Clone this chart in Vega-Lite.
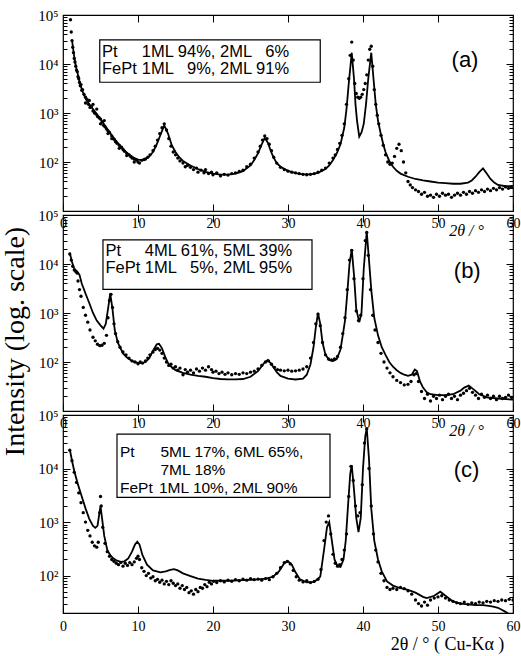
{
  "$schema": "https://vega.github.io/schema/vega-lite/v6.json",
  "background": "white",
  "padding": {"left": 0, "top": 7, "right": 0, "bottom": 0},
  "spacing": 4,
  "bounds": "flush",
  "config": {
    "view": {"stroke": "black", "strokeWidth": 1.2},
    "axis": {"tickColor": "black", "labelColor": "black", "domain": false, "grid": false, "labelFont": "Liberation Serif", "labelFontSize": 14, "tickWidth": 1, "titleColor": "black"},
    "font": "Liberation Serif"
  },
  "datasets": {
    "am": [{"x":1.0,"y":80000},{"x":1.1,"y":45000},{"x":1.2,"y":30000},{"x":1.3,"y":22000},{"x":1.4,"y":17000},{"x":1.5,"y":13000},{"x":1.6,"y":11000},{"x":1.7,"y":9000},{"x":1.8,"y":7500},{"x":1.9,"y":7000},{"x":2.0,"y":5500},{"x":2.1,"y":5000},{"x":2.2,"y":4200},{"x":2.3,"y":3600},{"x":2.4,"y":3800},{"x":2.5,"y":2900},{"x":2.6,"y":3000},{"x":2.8,"y":2400},{"x":3.0,"y":2100},{"x":3.0,"y":1600},{"x":3.2,"y":1900},{"x":3.4,"y":1500},{"x":3.5,"y":1800},{"x":3.6,"y":1300},{"x":3.8,"y":1350},{"x":4.0,"y":1100},{"x":4.0,"y":1500},{"x":4.2,"y":1000},{"x":4.4,"y":950},{"x":4.5,"y":1200},{"x":4.6,"y":850},{"x":4.8,"y":800},{"x":5.0,"y":750},{"x":5.0,"y":600},{"x":5.2,"y":650},{"x":5.4,"y":560},{"x":5.5,"y":700},{"x":5.6,"y":520},{"x":5.8,"y":470},{"x":6.0,"y":430},{"x":6.0,"y":380},{"x":6.2,"y":400},{"x":6.5,"y":340},{"x":6.5,"y":300},{"x":6.8,"y":290},{"x":7.0,"y":260},{"x":7.2,"y":240},{"x":7.5,"y":220},{"x":7.5,"y":190},{"x":7.8,"y":200},{"x":8.0,"y":180},{"x":8.2,"y":165},{"x":8.5,"y":150},{"x":8.5,"y":135},{"x":8.8,"y":140},{"x":9.0,"y":130},{"x":9.2,"y":120},{"x":9.5,"y":115},{"x":9.5,"y":100},{"x":9.8,"y":110},{"x":10.0,"y":100},{"x":10.2,"y":95},{"x":10.5,"y":108},{"x":10.8,"y":112},{"x":11.0,"y":115},{"x":11.3,"y":125},{"x":11.6,"y":140},{"x":12.0,"y":170},{"x":12.3,"y":210},{"x":12.6,"y":280},{"x":12.9,"y":380},{"x":13.2,"y":500},{"x":13.5,"y":600},{"x":13.8,"y":450},{"x":14.1,"y":300},{"x":14.4,"y":210},{"x":14.7,"y":160},{"x":15.0,"y":140},{"x":15.3,"y":120},{"x":15.6,"y":105},{"x":16.0,"y":95},{"x":16.3,"y":80},{"x":16.6,"y":85},{"x":17.0,"y":78},{"x":17.4,"y":70},{"x":17.8,"y":75},{"x":18.0,"y":62},{"x":18.4,"y":68},{"x":18.8,"y":60},{"x":19.0,"y":70},{"x":19.4,"y":58},{"x":19.8,"y":62},{"x":20.0,"y":55},{"x":20.5,"y":60},{"x":21.0,"y":52},{"x":21.5,"y":56},{"x":22.0,"y":54},{"x":22.5,"y":58},{"x":23.0,"y":60},{"x":23.5,"y":64},{"x":24.0,"y":68},{"x":24.5,"y":80},{"x":25.0,"y":90},{"x":25.5,"y":120},{"x":26.0,"y":160},{"x":26.3,"y":210},{"x":26.6,"y":280},{"x":26.9,"y":340},{"x":27.2,"y":300},{"x":27.5,"y":230},{"x":27.8,"y":170},{"x":28.1,"y":125},{"x":28.5,"y":95},{"x":29.0,"y":78},{"x":29.5,"y":70},{"x":30.0,"y":65},{"x":30.5,"y":62},{"x":31.0,"y":60},{"x":31.5,"y":58},{"x":32.0,"y":56},{"x":32.5,"y":55},{"x":33.0,"y":56},{"x":33.5,"y":58},{"x":34.0,"y":62},{"x":34.5,"y":68},{"x":35.0,"y":75},{"x":35.5,"y":95},{"x":36.0,"y":120},{"x":36.3,"y":140},{"x":36.6,"y":180},{"x":36.9,"y":240},{"x":37.2,"y":350},{"x":37.5,"y":600},{"x":37.8,"y":1500},{"x":38.1,"y":5000},{"x":38.3,"y":15000},{"x":38.5,"y":28000},{"x":38.7,"y":12000},{"x":38.9,"y":4000},{"x":39.1,"y":2500},{"x":39.3,"y":2100},{"x":39.5,"y":2000},{"x":39.7,"y":2100},{"x":39.9,"y":2400},{"x":40.1,"y":3000},{"x":40.3,"y":4000},{"x":40.5,"y":6000},{"x":40.7,"y":12000},{"x":40.9,"y":20000},{"x":41.1,"y":23000},{"x":41.3,"y":9000},{"x":41.5,"y":3000},{"x":41.7,"y":1500},{"x":41.9,"y":900},{"x":42.1,"y":600},{"x":42.4,"y":350},{"x":42.7,"y":220},{"x":43.0,"y":140},{"x":43.3,"y":100},{"x":43.6,"y":90},{"x":43.9,"y":95},{"x":44.2,"y":130},{"x":44.5,"y":190},{"x":44.8,"y":230},{"x":45.1,"y":170},{"x":45.4,"y":100},{"x":45.7,"y":60},{"x":46.0,"y":40},{"x":46.3,"y":34},{"x":46.6,"y":30},{"x":47.0,"y":27},{"x":47.4,"y":25},{"x":47.8,"y":22},{"x":48.2,"y":24},{"x":48.6,"y":20},{"x":49.0,"y":21},{"x":49.4,"y":19},{"x":49.8,"y":22},{"x":50.2,"y":20},{"x":50.6,"y":23},{"x":51.0,"y":21},{"x":51.4,"y":22},{"x":51.8,"y":19},{"x":52.2,"y":21},{"x":52.6,"y":23},{"x":53.0,"y":21},{"x":53.4,"y":24},{"x":53.8,"y":22},{"x":54.2,"y":25},{"x":54.6,"y":23},{"x":55.0,"y":26},{"x":55.4,"y":24},{"x":55.8,"y":27},{"x":56.2,"y":25},{"x":56.6,"y":28},{"x":57.0,"y":26},{"x":57.4,"y":29},{"x":57.8,"y":27},{"x":58.2,"y":30},{"x":58.6,"y":28},{"x":59.0,"y":31},{"x":59.4,"y":29},{"x":59.8,"y":31}],
    "af": [{"x":1.2,"y":31000},{"x":1.4,"y":18000},{"x":1.6,"y":11000},{"x":1.8,"y":8000},{"x":2.0,"y":6000},{"x":2.3,"y":3800},{"x":2.6,"y":2800},{"x":3.0,"y":2000},{"x":3.5,"y":1500},{"x":4.0,"y":1200},{"x":4.5,"y":950},{"x":5.0,"y":760},{"x":5.5,"y":580},{"x":6.0,"y":450},{"x":6.5,"y":350},{"x":7.0,"y":280},{"x":7.5,"y":225},{"x":8.0,"y":185},{"x":8.5,"y":155},{"x":9.0,"y":135},{"x":9.5,"y":120},{"x":10.0,"y":112},{"x":10.5,"y":110},{"x":11.0,"y":115},{"x":11.5,"y":130},{"x":12.0,"y":160},{"x":12.5,"y":230},{"x":13.0,"y":360},{"x":13.5,"y":560},{"x":14.0,"y":380},{"x":14.5,"y":220},{"x":15.0,"y":160},{"x":15.5,"y":125},{"x":16.0,"y":105},{"x":17.0,"y":85},{"x":18.0,"y":72},{"x":19.0,"y":63},{"x":20.0,"y":58},{"x":21.0,"y":55},{"x":22.0,"y":55},{"x":23.0,"y":58},{"x":24.0,"y":65},{"x":25.0,"y":85},{"x":25.5,"y":110},{"x":26.0,"y":150},{"x":26.5,"y":230},{"x":26.9,"y":310},{"x":27.3,"y":250},{"x":27.7,"y":170},{"x":28.0,"y":130},{"x":28.5,"y":95},{"x":29.0,"y":80},{"x":30.0,"y":66},{"x":31.0,"y":59},{"x":32.0,"y":56},{"x":33.0,"y":56},{"x":34.0,"y":60},{"x":35.0,"y":72},{"x":35.5,"y":85},{"x":36.0,"y":110},{"x":36.5,"y":150},{"x":37.0,"y":230},{"x":37.5,"y":500},{"x":37.8,"y":1200},{"x":38.1,"y":4000},{"x":38.5,"y":17000},{"x":38.8,"y":5000},{"x":39.0,"y":1500},{"x":39.2,"y":700},{"x":39.5,"y":330},{"x":39.8,"y":400},{"x":40.1,"y":600},{"x":40.4,"y":1500},{"x":40.7,"y":5000},{"x":41.1,"y":17000},{"x":41.4,"y":5000},{"x":41.7,"y":1500},{"x":42.0,"y":700},{"x":42.3,"y":420},{"x":42.7,"y":230},{"x":43.0,"y":160},{"x":43.5,"y":105},{"x":44.0,"y":80},{"x":44.5,"y":66},{"x":45.0,"y":58},{"x":46.0,"y":50},{"x":47.0,"y":45},{"x":48.0,"y":42},{"x":49.0,"y":40},{"x":50.0,"y":38},{"x":51.0,"y":37},{"x":52.0,"y":36},{"x":53.0,"y":36},{"x":54.0,"y":38},{"x":54.5,"y":42},{"x":55.0,"y":50},{"x":55.5,"y":62},{"x":56.0,"y":74},{"x":56.5,"y":58},{"x":57.0,"y":45},{"x":57.5,"y":38},{"x":58.0,"y":34},{"x":59.0,"y":32},{"x":60.0,"y":32}],
    "bm": [{"x":0.9,"y":16000},{"x":1.1,"y":12000},{"x":1.3,"y":9000},{"x":1.5,"y":7500},{"x":1.7,"y":7000},{"x":1.9,"y":6500},{"x":2.0,"y":4500},{"x":2.2,"y":3000},{"x":2.4,"y":2200},{"x":2.7,"y":1300},{"x":3.0,"y":900},{"x":3.3,"y":650},{"x":3.6,"y":450},{"x":4.0,"y":320},{"x":4.3,"y":270},{"x":4.6,"y":230},{"x":4.9,"y":215},{"x":5.2,"y":220},{"x":5.5,"y":240},{"x":5.8,"y":350},{"x":6.0,"y":800},{"x":6.2,"y":1800},{"x":6.4,"y":2400},{"x":6.6,"y":1300},{"x":6.8,"y":600},{"x":7.0,"y":380},{"x":7.3,"y":260},{"x":7.6,"y":200},{"x":8.0,"y":160},{"x":8.4,"y":140},{"x":8.8,"y":120},{"x":9.2,"y":105},{"x":9.6,"y":100},{"x":10.0,"y":92},{"x":10.3,"y":100},{"x":10.6,"y":95},{"x":11.0,"y":105},{"x":11.3,"y":120},{"x":11.6,"y":140},{"x":12.0,"y":160},{"x":12.3,"y":180},{"x":12.6,"y":190},{"x":12.9,"y":175},{"x":13.2,"y":150},{"x":13.5,"y":120},{"x":13.8,"y":100},{"x":14.1,"y":85},{"x":14.4,"y":90},{"x":14.7,"y":75},{"x":15.0,"y":80},{"x":15.3,"y":68},{"x":15.6,"y":75},{"x":16.0,"y":55},{"x":16.3,"y":70},{"x":16.6,"y":62},{"x":17.0,"y":68},{"x":17.4,"y":60},{"x":17.8,"y":72},{"x":18.2,"y":65},{"x":18.6,"y":75},{"x":19.0,"y":68},{"x":19.4,"y":80},{"x":19.8,"y":70},{"x":20.0,"y":62},{"x":20.4,"y":65},{"x":20.8,"y":58},{"x":21.2,"y":62},{"x":21.6,"y":56},{"x":22.0,"y":60},{"x":22.5,"y":55},{"x":23.0,"y":58},{"x":23.5,"y":56},{"x":24.0,"y":60},{"x":24.5,"y":58},{"x":25.0,"y":62},{"x":25.5,"y":65},{"x":26.0,"y":72},{"x":26.5,"y":85},{"x":27.0,"y":100},{"x":27.4,"y":105},{"x":27.8,"y":90},{"x":28.2,"y":78},{"x":28.6,"y":70},{"x":29.0,"y":68},{"x":29.5,"y":66},{"x":30.0,"y":68},{"x":30.5,"y":65},{"x":31.0,"y":66},{"x":31.5,"y":68},{"x":32.0,"y":72},{"x":32.5,"y":80},{"x":33.0,"y":120},{"x":33.4,"y":250},{"x":33.7,"y":600},{"x":34.0,"y":950},{"x":34.3,"y":550},{"x":34.6,"y":250},{"x":35.0,"y":140},{"x":35.4,"y":115},{"x":35.8,"y":110},{"x":36.2,"y":115},{"x":36.6,"y":130},{"x":37.0,"y":200},{"x":37.3,"y":380},{"x":37.6,"y":800},{"x":37.9,"y":3000},{"x":38.2,"y":12000},{"x":38.5,"y":19000},{"x":38.8,"y":5000},{"x":39.1,"y":1100},{"x":39.4,"y":700},{"x":39.7,"y":900},{"x":40.0,"y":5000},{"x":40.3,"y":30000},{"x":40.5,"y":44000},{"x":40.7,"y":15000},{"x":41.0,"y":3000},{"x":41.3,"y":900},{"x":41.6,"y":450},{"x":42.0,"y":250},{"x":42.4,"y":150},{"x":42.8,"y":100},{"x":43.2,"y":75},{"x":43.6,"y":60},{"x":44.0,"y":50},{"x":44.5,"y":42},{"x":45.0,"y":38},{"x":45.5,"y":34},{"x":46.0,"y":35},{"x":46.4,"y":40},{"x":46.8,"y":55},{"x":47.1,"y":58},{"x":47.4,"y":40},{"x":47.8,"y":25},{"x":48.2,"y":18},{"x":48.6,"y":22},{"x":49.0,"y":16},{"x":49.4,"y":20},{"x":49.8,"y":18},{"x":50.2,"y":21},{"x":50.6,"y":17},{"x":51.0,"y":20},{"x":51.4,"y":22},{"x":51.8,"y":18},{"x":52.2,"y":20},{"x":52.6,"y":17},{"x":53.0,"y":21},{"x":53.4,"y":23},{"x":53.8,"y":26},{"x":54.2,"y":29},{"x":54.6,"y":24},{"x":55.0,"y":21},{"x":55.4,"y":18},{"x":55.8,"y":22},{"x":56.2,"y":19},{"x":56.6,"y":21},{"x":57.0,"y":18},{"x":57.4,"y":20},{"x":57.8,"y":17},{"x":58.2,"y":20},{"x":58.6,"y":18},{"x":59.0,"y":19},{"x":59.4,"y":21},{"x":59.8,"y":19}],
    "bf": [{"x":0.9,"y":17000},{"x":1.2,"y":11000},{"x":1.5,"y":8000},{"x":1.9,"y":7000},{"x":2.2,"y":6000},{"x":2.5,"y":4000},{"x":3.0,"y":2500},{"x":3.5,"y":1600},{"x":4.0,"y":1000},{"x":4.5,"y":700},{"x":5.0,"y":560},{"x":5.4,"y":480},{"x":5.7,"y":600},{"x":6.0,"y":1200},{"x":6.3,"y":2500},{"x":6.6,"y":1200},{"x":6.9,"y":450},{"x":7.3,"y":250},{"x":8.0,"y":150},{"x":8.5,"y":125},{"x":9.0,"y":110},{"x":9.5,"y":100},{"x":10.0,"y":96},{"x":10.5,"y":95},{"x":11.0,"y":100},{"x":11.5,"y":120},{"x":12.0,"y":170},{"x":12.5,"y":230},{"x":12.8,"y":235},{"x":13.2,"y":190},{"x":13.6,"y":130},{"x":14.0,"y":95},{"x":14.5,"y":78},{"x":15.0,"y":68},{"x":16.0,"y":60},{"x":17.0,"y":55},{"x":18.0,"y":52},{"x":19.0,"y":50},{"x":20.0,"y":47},{"x":21.0,"y":45},{"x":22.0,"y":44},{"x":23.0,"y":44},{"x":24.0,"y":45},{"x":25.0,"y":50},{"x":26.0,"y":65},{"x":26.8,"y":95},{"x":27.3,"y":110},{"x":27.8,"y":90},{"x":28.5,"y":62},{"x":29.0,"y":52},{"x":30.0,"y":46},{"x":31.0,"y":44},{"x":32.0,"y":46},{"x":32.5,"y":55},{"x":33.0,"y":90},{"x":33.4,"y":200},{"x":33.7,"y":500},{"x":34.0,"y":1000},{"x":34.3,"y":600},{"x":34.6,"y":250},{"x":35.0,"y":140},{"x":35.5,"y":110},{"x":36.0,"y":105},{"x":36.5,"y":115},{"x":37.0,"y":180},{"x":37.3,"y":350},{"x":37.6,"y":700},{"x":37.9,"y":2500},{"x":38.2,"y":10000},{"x":38.5,"y":20000},{"x":38.8,"y":6000},{"x":39.1,"y":1200},{"x":39.5,"y":650},{"x":39.8,"y":1000},{"x":40.1,"y":8000},{"x":40.5,"y":46000},{"x":40.8,"y":12000},{"x":41.1,"y":3000},{"x":41.5,"y":800},{"x":42.0,"y":350},{"x":42.5,"y":200},{"x":43.0,"y":140},{"x":43.5,"y":100},{"x":44.0,"y":80},{"x":44.5,"y":68},{"x":45.0,"y":60},{"x":45.5,"y":55},{"x":46.0,"y":52},{"x":46.5,"y":55},{"x":46.9,"y":70},{"x":47.2,"y":65},{"x":47.6,"y":40},{"x":48.0,"y":30},{"x":48.5,"y":24},{"x":49.0,"y":22},{"x":50.0,"y":21},{"x":51.0,"y":21},{"x":52.0,"y":22},{"x":53.0,"y":26},{"x":53.5,"y":30},{"x":54.1,"y":33},{"x":54.7,"y":28},{"x":55.5,"y":22},{"x":56.5,"y":19},{"x":58.0,"y":18},{"x":60.0,"y":17}],
    "cm": [{"x":0.9,"y":22000},{"x":1.2,"y":14000},{"x":1.5,"y":8500},{"x":1.8,"y":5500},{"x":2.1,"y":3500},{"x":2.4,"y":2300},{"x":2.7,"y":1500},{"x":3.0,"y":1000},{"x":3.3,"y":700},{"x":3.6,"y":550},{"x":3.9,"y":420},{"x":4.2,"y":360},{"x":4.5,"y":340},{"x":4.7,"y":420},{"x":4.9,"y":1500},{"x":5.0,"y":3000},{"x":5.1,"y":2000},{"x":5.3,"y":800},{"x":5.6,"y":400},{"x":5.9,"y":280},{"x":6.2,"y":230},{"x":6.5,"y":200},{"x":6.8,"y":185},{"x":7.1,"y":170},{"x":7.4,"y":160},{"x":7.7,"y":175},{"x":8.0,"y":150},{"x":8.3,"y":170},{"x":8.6,"y":155},{"x":8.9,"y":175},{"x":9.2,"y":160},{"x":9.5,"y":180},{"x":9.8,"y":210},{"x":10.0,"y":230},{"x":10.2,"y":200},{"x":10.5,"y":140},{"x":10.8,"y":120},{"x":11.1,"y":100},{"x":11.4,"y":110},{"x":11.7,"y":90},{"x":12.0,"y":95},{"x":12.3,"y":80},{"x":12.6,"y":85},{"x":12.9,"y":75},{"x":13.2,"y":82},{"x":13.5,"y":70},{"x":13.8,"y":78},{"x":14.1,"y":68},{"x":14.4,"y":80},{"x":14.7,"y":72},{"x":15.0,"y":65},{"x":15.3,"y":70},{"x":15.6,"y":58},{"x":15.9,"y":65},{"x":16.2,"y":55},{"x":16.5,"y":60},{"x":16.8,"y":48},{"x":17.1,"y":52},{"x":17.4,"y":45},{"x":17.7,"y":55},{"x":18.0,"y":50},{"x":18.3,"y":60},{"x":18.6,"y":58},{"x":18.9,"y":68},{"x":19.2,"y":62},{"x":19.5,"y":75},{"x":19.8,"y":70},{"x":20.1,"y":78},{"x":20.5,"y":74},{"x":21.0,"y":80},{"x":21.5,"y":76},{"x":22.0,"y":82},{"x":22.5,"y":78},{"x":23.0,"y":84},{"x":23.5,"y":80},{"x":24.0,"y":86},{"x":24.5,"y":82},{"x":25.0,"y":88},{"x":25.5,"y":84},{"x":26.0,"y":86},{"x":26.5,"y":82},{"x":27.0,"y":88},{"x":27.5,"y":84},{"x":28.0,"y":95},{"x":28.5,"y":110},{"x":29.0,"y":140},{"x":29.5,"y":175},{"x":29.9,"y":185},{"x":30.3,"y":165},{"x":30.7,"y":125},{"x":31.1,"y":95},{"x":31.5,"y":82},{"x":32.0,"y":76},{"x":32.5,"y":80},{"x":33.0,"y":74},{"x":33.5,"y":78},{"x":34.0,"y":85},{"x":34.4,"y":130},{"x":34.8,"y":450},{"x":35.1,"y":1000},{"x":35.4,"y":1300},{"x":35.7,"y":600},{"x":36.0,"y":250},{"x":36.3,"y":170},{"x":36.6,"y":150},{"x":36.9,"y":160},{"x":37.2,"y":200},{"x":37.5,"y":300},{"x":37.8,"y":600},{"x":38.1,"y":3000},{"x":38.4,"y":11000},{"x":38.7,"y":6000},{"x":39.0,"y":2000},{"x":39.3,"y":1300},{"x":39.6,"y":1500},{"x":39.9,"y":5000},{"x":40.2,"y":30000},{"x":40.5,"y":55000},{"x":40.8,"y":10000},{"x":41.1,"y":2000},{"x":41.4,"y":600},{"x":41.7,"y":300},{"x":42.0,"y":180},{"x":42.4,"y":110},{"x":42.8,"y":80},{"x":43.2,"y":60},{"x":43.6,"y":55},{"x":44.0,"y":58},{"x":44.5,"y":55},{"x":45.0,"y":60},{"x":45.5,"y":57},{"x":46.0,"y":52},{"x":46.5,"y":45},{"x":47.0,"y":35},{"x":47.4,"y":30},{"x":47.8,"y":27},{"x":48.2,"y":32},{"x":48.6,"y":28},{"x":49.0,"y":35},{"x":49.5,"y":38},{"x":50.0,"y":40},{"x":50.5,"y":42},{"x":51.0,"y":38},{"x":51.5,"y":35},{"x":52.0,"y":33},{"x":52.5,"y":31},{"x":53.0,"y":30},{"x":53.5,"y":32},{"x":54.0,"y":29},{"x":54.5,"y":31},{"x":55.0,"y":30},{"x":55.5,"y":32},{"x":56.0,"y":31},{"x":56.5,"y":33},{"x":57.0,"y":32},{"x":57.5,"y":34},{"x":58.0,"y":33},{"x":58.5,"y":35},{"x":59.0,"y":34},{"x":59.5,"y":36},{"x":60.0,"y":35}],
    "cf": [{"x":0.9,"y":23000},{"x":1.2,"y":14000},{"x":1.5,"y":9000},{"x":2.0,"y":5000},{"x":2.5,"y":3000},{"x":3.0,"y":1800},{"x":3.5,"y":1150},{"x":4.0,"y":850},{"x":4.3,"y":780},{"x":4.6,"y":850},{"x":4.8,"y":1300},{"x":5.0,"y":2000},{"x":5.2,"y":1200},{"x":5.5,"y":550},{"x":5.9,"y":300},{"x":6.3,"y":240},{"x":6.7,"y":210},{"x":7.2,"y":190},{"x":7.7,"y":180},{"x":8.2,"y":185},{"x":8.7,"y":210},{"x":9.2,"y":280},{"x":9.6,"y":380},{"x":9.9,"y":430},{"x":10.2,"y":380},{"x":10.6,"y":240},{"x":11.2,"y":160},{"x":12.0,"y":125},{"x":13.0,"y":115},{"x":13.7,"y":120},{"x":14.3,"y":128},{"x":14.8,"y":132},{"x":15.3,"y":125},{"x":16.0,"y":110},{"x":17.0,"y":98},{"x":18.0,"y":88},{"x":19.0,"y":83},{"x":20.0,"y":80},{"x":22.0,"y":80},{"x":24.0,"y":82},{"x":26.0,"y":85},{"x":27.0,"y":88},{"x":28.0,"y":95},{"x":28.8,"y":120},{"x":29.5,"y":170},{"x":30.0,"y":185},{"x":30.5,"y":160},{"x":31.0,"y":115},{"x":31.6,"y":85},{"x":32.5,"y":75},{"x":33.5,"y":76},{"x":34.3,"y":95},{"x":34.8,"y":300},{"x":35.2,"y":800},{"x":35.5,"y":1000},{"x":35.8,"y":500},{"x":36.2,"y":200},{"x":36.6,"y":150},{"x":37.0,"y":145},{"x":37.4,"y":200},{"x":37.7,"y":450},{"x":38.0,"y":2000},{"x":38.3,"y":8000},{"x":38.5,"y":11500},{"x":38.8,"y":4000},{"x":39.1,"y":1200},{"x":39.4,"y":650},{"x":39.7,"y":1200},{"x":40.0,"y":10000},{"x":40.3,"y":40000},{"x":40.5,"y":57000},{"x":40.8,"y":15000},{"x":41.1,"y":1800},{"x":41.5,"y":450},{"x":42.0,"y":200},{"x":42.5,"y":120},{"x":43.2,"y":78},{"x":44.0,"y":65},{"x":45.0,"y":58},{"x":46.0,"y":54},{"x":47.0,"y":48},{"x":48.0,"y":40},{"x":48.5,"y":38},{"x":49.5,"y":42},{"x":50.3,"y":50},{"x":51.0,"y":42},{"x":52.0,"y":33},{"x":53.0,"y":30},{"x":54.0,"y":29},{"x":55.0,"y":28},{"x":56.0,"y":28},{"x":57.0,"y":27},{"x":57.5,"y":26},{"x":58.0,"y":25},{"x":58.5,"y":23},{"x":59.0,"y":21},{"x":59.5,"y":19},{"x":60.0,"y":17}]
  },
  "vconcat": [
    {
      "width": 450, "height": 196,
      "layer": [
        {"data": {"name": "am"}, "mark": {"type": "point", "filled": true, "size": 11, "color": "black", "opacity": 1, "strokeWidth": 0, "clip": true},
         "encoding": {
           "x": {"field": "x", "type": "quantitative", "scale": {"domain": [0, 60], "nice": false, "zero": false},
                 "axis": {"orient": "bottom", "values": [0,10,20,30,40,50,60], "tickSize": -7, "labelPadding": 12, "labelFlush": false, "labelOverlap": false, "title": "2θ / °", "titleFont": "Liberation Serif", "titleFontStyle": "italic", "titleFontWeight": "normal", "titleFontSize": 16, "titleX": 403, "titleY": 19, "titleBaseline": "middle", "titleAlign": "center"}},
           "y": {"field": "y", "type": "quantitative", "scale": {"type": "log", "domain": [10, 100000], "nice": false},
                 "axis": {"orient": "left", "values": [20,30,40,50,60,70,80,90,100,200,300,400,500,600,700,800,900,1000,2000,3000,4000,5000,6000,7000,8000,9000,10000,20000,30000,40000,50000,60000,70000,80000,90000,100000], "labelExpr": "datum.value==100?'10²':datum.value==1000?'10³':datum.value==10000?'10⁴':datum.value==100000?'10⁵':''", "tickSize": {"condition": {"test": "datum.value==100||datum.value==1000||datum.value==10000||datum.value==100000", "value": -7}, "value": -4}, "labelPadding": 12, "labelOverlap": false, "labelFontSize": 15, "title": null}}
         }},
        {"data": {"name": "af"}, "mark": {"type": "line", "color": "black", "strokeWidth": 1.8, "clip": true},
         "encoding": {
           "x": {"field": "x", "type": "quantitative", "axis": {"orient": "top", "values": [10,20,30,40,50], "tickSize": -7, "labels": false, "title": null}},
           "y": {"field": "y", "type": "quantitative", "axis": {"orient": "right", "values": [20,30,40,50,60,70,80,90,100,200,300,400,500,600,700,800,900,1000,2000,3000,4000,5000,6000,7000,8000,9000,10000,20000,30000,40000,50000,60000,70000,80000,90000,100000], "labels": false, "tickSize": {"condition": {"test": "datum.value==100||datum.value==1000||datum.value==10000||datum.value==100000", "value": -7}, "value": -4}, "title": null}}
         }},
        {"data": {"values": [{}]}, "mark": {"type": "rect", "fill": "white", "stroke": "black", "strokeWidth": 1.2},
         "encoding": {"x": {"datum": 4.9, "type": "quantitative", "axis": null}, "x2": {"datum": 34.3}, "y": {"datum": 31000, "type": "quantitative", "axis": null}, "y2": {"datum": 4240}}},
        {"data": {"values": [{}]}, "mark": {"type": "text", "text": "Pt", "align": "left", "baseline": "middle", "font": "Liberation Sans", "fontSize": 16.5},
         "encoding": {"x": {"datum": 5.2, "type": "quantitative", "axis": null}, "y": {"datum": 17800, "type": "quantitative", "axis": null}}},
        {"data": {"values": [{}]}, "mark": {"type": "text", "text": "1ML 94%, 2ML \u20076%", "align": "left", "baseline": "middle", "font": "Liberation Sans", "fontSize": 16.5},
         "encoding": {"x": {"datum": 10.5, "type": "quantitative", "axis": null}, "y": {"datum": 17800, "type": "quantitative", "axis": null}}},
        {"data": {"values": [{}]}, "mark": {"type": "text", "text": "FePt", "align": "left", "baseline": "middle", "font": "Liberation Sans", "fontSize": 16.5},
         "encoding": {"x": {"datum": 5.2, "type": "quantitative", "axis": null}, "y": {"datum": 7900, "type": "quantitative", "axis": null}}},
        {"data": {"values": [{}]}, "mark": {"type": "text", "text": "1ML \u20079%, 2ML 91%", "align": "left", "baseline": "middle", "font": "Liberation Sans", "fontSize": 16.5},
         "encoding": {"x": {"datum": 10.5, "type": "quantitative", "axis": null}, "y": {"datum": 7900, "type": "quantitative", "axis": null}}},
        {"data": {"values": [{}]}, "mark": {"type": "text", "text": "(a)", "align": "center", "baseline": "middle", "font": "Liberation Sans", "fontSize": 22},
         "encoding": {"x": {"datum": 53.6, "type": "quantitative", "axis": null}, "y": {"datum": 12300, "type": "quantitative", "axis": null}}}
      ],
      "resolve": {"axis": {"x": "independent", "y": "independent"}}
    },
    {
      "width": 450, "height": 196,
      "layer": [
        {"data": {"name": "bm"}, "mark": {"type": "point", "filled": true, "size": 11, "color": "black", "opacity": 1, "strokeWidth": 0, "clip": true},
         "encoding": {
           "x": {"field": "x", "type": "quantitative", "scale": {"domain": [0, 60], "nice": false, "zero": false},
                 "axis": {"orient": "bottom", "values": [0,10,20,30,40,50,60], "tickSize": -7, "labelPadding": 12, "labelFlush": false, "labelOverlap": false, "title": "2θ / °", "titleFont": "Liberation Serif", "titleFontStyle": "italic", "titleFontWeight": "normal", "titleFontSize": 16, "titleX": 403, "titleY": 19, "titleBaseline": "middle", "titleAlign": "center"}},
           "y": {"field": "y", "type": "quantitative", "scale": {"type": "log", "domain": [10, 100000], "nice": false},
                 "axis": {"orient": "left", "values": [20,30,40,50,60,70,80,90,100,200,300,400,500,600,700,800,900,1000,2000,3000,4000,5000,6000,7000,8000,9000,10000,20000,30000,40000,50000,60000,70000,80000,90000,100000], "labelExpr": "datum.value==100?'10²':datum.value==1000?'10³':datum.value==10000?'10⁴':datum.value==100000?'10⁵':''", "tickSize": {"condition": {"test": "datum.value==100||datum.value==1000||datum.value==10000||datum.value==100000", "value": -7}, "value": -4}, "labelPadding": 12, "labelOverlap": false, "labelFontSize": 15,
                          "title": "Intensity (log. scale)", "titleFont": "Liberation Serif", "titleFontWeight": "normal", "titleFontSize": 28, "titleAngle": -90, "titleX": -40, "titleY": 126, "titleBaseline": "alphabetic", "titleAlign": "center"}}
         }},
        {"data": {"name": "bf"}, "mark": {"type": "line", "color": "black", "strokeWidth": 1.8, "clip": true},
         "encoding": {
           "x": {"field": "x", "type": "quantitative", "axis": {"orient": "top", "values": [10,20,30,40,50], "tickSize": -7, "labels": false, "title": null}},
           "y": {"field": "y", "type": "quantitative", "axis": {"orient": "right", "values": [20,30,40,50,60,70,80,90,100,200,300,400,500,600,700,800,900,1000,2000,3000,4000,5000,6000,7000,8000,9000,10000,20000,30000,40000,50000,60000,70000,80000,90000,100000], "labels": false, "tickSize": {"condition": {"test": "datum.value==100||datum.value==1000||datum.value==10000||datum.value==100000", "value": -7}, "value": -4}, "title": null}}
         }},
        {"data": {"values": [{}]}, "mark": {"type": "rect", "fill": "white", "stroke": "black", "strokeWidth": 1.2},
         "encoding": {"x": {"datum": 5.33, "type": "quantitative", "axis": null}, "x2": {"datum": 33.2}, "y": {"datum": 31000, "type": "quantitative", "axis": null}, "y2": {"datum": 3040}}},
        {"data": {"values": [{}]}, "mark": {"type": "text", "text": "Pt", "align": "left", "baseline": "middle", "font": "Liberation Sans", "fontSize": 16.5},
         "encoding": {"x": {"datum": 5.65, "type": "quantitative", "axis": null}, "y": {"datum": 18700, "type": "quantitative", "axis": null}}},
        {"data": {"values": [{}]}, "mark": {"type": "text", "text": "4ML 61%, 5ML 39%", "align": "left", "baseline": "middle", "font": "Liberation Sans", "fontSize": 16.5},
         "encoding": {"x": {"datum": 10.9, "type": "quantitative", "axis": null}, "y": {"datum": 18700, "type": "quantitative", "axis": null}}},
        {"data": {"values": [{}]}, "mark": {"type": "text", "text": "FePt", "align": "left", "baseline": "middle", "font": "Liberation Sans", "fontSize": 16.5},
         "encoding": {"x": {"datum": 5.65, "type": "quantitative", "axis": null}, "y": {"datum": 8150, "type": "quantitative", "axis": null}}},
        {"data": {"values": [{}]}, "mark": {"type": "text", "text": "1ML \u20075%, 2ML 95%", "align": "left", "baseline": "middle", "font": "Liberation Sans", "fontSize": 16.5},
         "encoding": {"x": {"datum": 10.9, "type": "quantitative", "axis": null}, "y": {"datum": 8150, "type": "quantitative", "axis": null}}},
        {"data": {"values": [{}]}, "mark": {"type": "text", "text": "(b)", "align": "center", "baseline": "middle", "font": "Liberation Sans", "fontSize": 22},
         "encoding": {"x": {"datum": 53.9, "type": "quantitative", "axis": null}, "y": {"datum": 7070, "type": "quantitative", "axis": null}}}
      ],
      "resolve": {"axis": {"x": "independent", "y": "independent"}}
    },
    {
      "width": 450, "height": 198,
      "layer": [
        {"data": {"name": "cm"}, "mark": {"type": "point", "filled": true, "size": 11, "color": "black", "opacity": 1, "strokeWidth": 0, "clip": true},
         "encoding": {
           "x": {"field": "x", "type": "quantitative", "scale": {"domain": [0, 60], "nice": false, "zero": false},
                 "axis": {"orient": "bottom", "values": [0,10,20,30,40,50,60], "tickSize": -7, "labelPadding": 13, "labelFlush": false, "labelOverlap": false, "title": "2θ / °  ( Cu-Kα )", "titleFont": "Liberation Serif", "titleFontWeight": "normal", "titleFontSize": 18, "titleX": 384, "titleY": 31, "titleBaseline": "middle", "titleAlign": "center"}},
           "y": {"field": "y", "type": "quantitative", "scale": {"type": "log", "domain": [20, 100000], "nice": false},
                 "axis": {"orient": "left", "values": [30,40,50,60,70,80,90,100,200,300,400,500,600,700,800,900,1000,2000,3000,4000,5000,6000,7000,8000,9000,10000,20000,30000,40000,50000,60000,70000,80000,90000,100000], "labelExpr": "datum.value==100?'10²':datum.value==1000?'10³':datum.value==10000?'10⁴':datum.value==100000?'10⁵':''", "tickSize": {"condition": {"test": "datum.value==100||datum.value==1000||datum.value==10000||datum.value==100000", "value": -7}, "value": -4}, "labelPadding": 12, "labelOverlap": false, "labelFontSize": 15, "title": null}}
         }},
        {"data": {"name": "cf"}, "mark": {"type": "line", "color": "black", "strokeWidth": 1.8, "clip": true},
         "encoding": {
           "x": {"field": "x", "type": "quantitative", "axis": {"orient": "top", "values": [10,20,30,40,50], "tickSize": -7, "labels": false, "title": null}},
           "y": {"field": "y", "type": "quantitative", "axis": {"orient": "right", "values": [30,40,50,60,70,80,90,100,200,300,400,500,600,700,800,900,1000,2000,3000,4000,5000,6000,7000,8000,9000,10000,20000,30000,40000,50000,60000,70000,80000,90000,100000], "labels": false, "tickSize": {"condition": {"test": "datum.value==100||datum.value==1000||datum.value==10000||datum.value==100000", "value": -7}, "value": -4}, "title": null}}
         }},
        {"data": {"values": [{}]}, "mark": {"type": "rect", "fill": "white", "stroke": "black", "strokeWidth": 1.2},
         "encoding": {"x": {"datum": 7.2, "type": "quantitative", "axis": null}, "x2": {"datum": 35.6}, "y": {"datum": 44000, "type": "quantitative", "axis": null}, "y2": {"datum": 2900}}},
        {"data": {"values": [{}]}, "mark": {"type": "text", "text": "Pt", "align": "left", "baseline": "middle", "font": "Liberation Sans", "fontSize": 15.5},
         "encoding": {"x": {"datum": 7.6, "type": "quantitative", "axis": null}, "y": {"datum": 20500, "type": "quantitative", "axis": null}}},
        {"data": {"values": [{}]}, "mark": {"type": "text", "text": "5ML 17%, 6ML 65%,", "align": "left", "baseline": "middle", "font": "Liberation Sans", "fontSize": 15.5},
         "encoding": {"x": {"datum": 13.0, "type": "quantitative", "axis": null}, "y": {"datum": 20500, "type": "quantitative", "axis": null}}},
        {"data": {"values": [{}]}, "mark": {"type": "text", "text": "7ML 18%", "align": "left", "baseline": "middle", "font": "Liberation Sans", "fontSize": 15.5},
         "encoding": {"x": {"datum": 13.0, "type": "quantitative", "axis": null}, "y": {"datum": 9400, "type": "quantitative", "axis": null}}},
        {"data": {"values": [{}]}, "mark": {"type": "text", "text": "FePt", "align": "left", "baseline": "middle", "font": "Liberation Sans", "fontSize": 15.5},
         "encoding": {"x": {"datum": 7.6, "type": "quantitative", "axis": null}, "y": {"datum": 4400, "type": "quantitative", "axis": null}}},
        {"data": {"values": [{}]}, "mark": {"type": "text", "text": "1ML 10%, 2ML 90%", "align": "left", "baseline": "middle", "font": "Liberation Sans", "fontSize": 15.5},
         "encoding": {"x": {"datum": 12.8, "type": "quantitative", "axis": null}, "y": {"datum": 4400, "type": "quantitative", "axis": null}}},
        {"data": {"values": [{}]}, "mark": {"type": "text", "text": "(c)", "align": "center", "baseline": "middle", "font": "Liberation Sans", "fontSize": 22},
         "encoding": {"x": {"datum": 53.8, "type": "quantitative", "axis": null}, "y": {"datum": 9400, "type": "quantitative", "axis": null}}}
      ],
      "resolve": {"axis": {"x": "independent", "y": "independent"}}
    }
  ]
}
